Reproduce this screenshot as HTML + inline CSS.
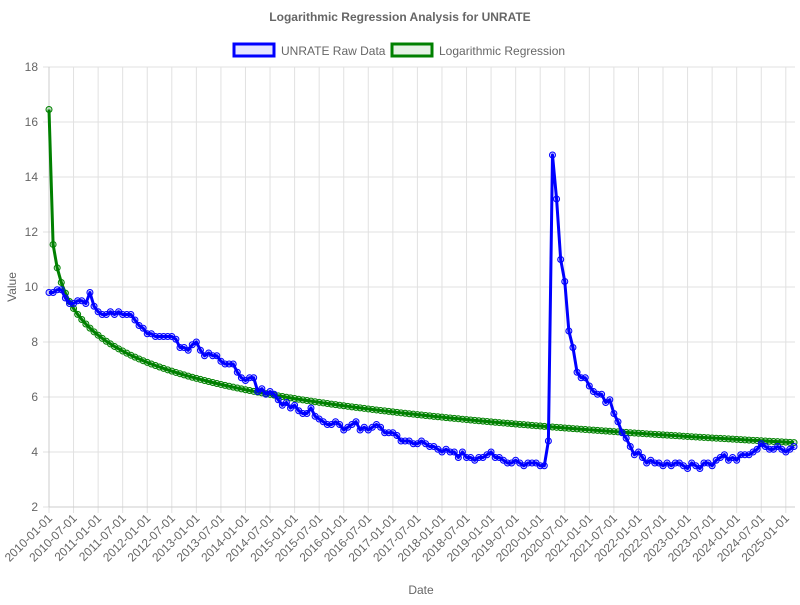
<!DOCTYPE html>
<html><head><meta charset="utf-8"><style>
body{margin:0;background:#fff;font-family:"Liberation Sans",Arial,sans-serif}
svg text{font-family:"Liberation Sans",Arial,sans-serif}
</style></head><body>
<svg id="chart" width="800" height="600" xmlns="http://www.w3.org/2000/svg">
<text x="400" y="21" text-anchor="middle" font-size="12" font-weight="bold" fill="#666">Logarithmic Regression Analysis for UNRATE</text>
<g>
<rect x="234" y="44" width="40" height="12" fill="rgba(0,0,255,0.1)" stroke="#0000ff" stroke-width="3"/>
<text x="281" y="55" font-size="12" fill="#666">UNRATE Raw Data</text></g>
<g>
<rect x="392" y="44" width="40" height="12" fill="rgba(0,128,0,0.1)" stroke="#008000" stroke-width="3"/>
<text x="439" y="55" font-size="12" fill="#666">Logarithmic Regression</text></g>
<g id="grid"></g>
<g id="yticks"></g>
<g id="xticks"></g>
<g id="series"></g>
<text transform="translate(16,287) rotate(-90)" text-anchor="middle" font-size="12" fill="#666">Value</text>
<text x="421" y="594" text-anchor="middle" font-size="12" fill="#666">Date</text>
</svg>
<script>
const startYear = 2010;
const unrate = [
9.8,9.8,9.9,9.9,9.6,9.4,9.4,9.5,9.5,9.4,9.8,9.3,
9.1,9.0,9.0,9.1,9.0,9.1,9.0,9.0,9.0,8.8,8.6,8.5,
8.3,8.3,8.2,8.2,8.2,8.2,8.2,8.1,7.8,7.8,7.7,7.9,
8.0,7.7,7.5,7.6,7.5,7.5,7.3,7.2,7.2,7.2,6.9,6.7,
6.6,6.7,6.7,6.2,6.3,6.1,6.2,6.1,5.9,5.7,5.8,5.6,
5.7,5.5,5.4,5.4,5.6,5.3,5.2,5.1,5.0,5.0,5.1,5.0,
4.8,4.9,5.0,5.1,4.8,4.9,4.8,4.9,5.0,4.9,4.7,4.7,
4.7,4.6,4.4,4.4,4.4,4.3,4.3,4.4,4.3,4.2,4.2,4.1,
4.0,4.1,4.0,4.0,3.8,4.0,3.8,3.8,3.7,3.8,3.8,3.9,
4.0,3.8,3.8,3.7,3.6,3.6,3.7,3.6,3.5,3.6,3.6,3.6,
3.5,3.5,4.4,14.8,13.2,11.0,10.2,8.4,7.8,6.9,6.7,6.7,
6.4,6.2,6.1,6.1,5.8,5.9,5.4,5.1,4.7,4.5,4.2,3.9,
4.0,3.8,3.6,3.7,3.6,3.6,3.5,3.6,3.5,3.6,3.6,3.5,
3.4,3.6,3.5,3.4,3.6,3.6,3.5,3.7,3.8,3.9,3.7,3.8,
3.7,3.9,3.9,3.9,4.0,4.1,4.3,4.2,4.1,4.1,4.2,4.1,
4.0,4.1,4.2];
const regA = 11.87;
const regB = -1.446;
const regOffset = 0.25;
const regFirstX = 0.042;
const yTicks = [2,4,6,8,10,12,14,16,18];

const NS='http://www.w3.org/2000/svg';
const L=49,R=794,T=67,B=507,yMin=2,yMax=18;
const n=unrate.length;
const xs=i=>L+i*(R-L)/(n-1);
const ys=v=>B-(v-yMin)/(yMax-yMin)*(B-T);
function mk(tag,attrs,parent){const e=document.createElementNS(NS,tag);for(const k in attrs)e.setAttribute(k,attrs[k]);parent.appendChild(e);return e;}
const grid=document.getElementById('grid'),yt=document.getElementById('yticks'),xt=document.getElementById('xticks'),ser=document.getElementById('series');
yTicks.forEach(v=>{
  const ln=mk('line',{x1:L-6,x2:R+1,y1:ys(v),y2:ys(v),stroke:'#e1e1e1'},grid);
  
  
  const t=mk('text',{x:L-11,y:ys(v)+4,'text-anchor':'end','font-size':12,fill:'#666'},yt);
  
  
  t.textContent=v;
});
for(let i=0;i<n;i+=6){
  const x=xs(i);
  const ln=mk('line',{x1:x,x2:x,y1:T,y2:B+6,stroke:'#e1e1e1'},grid);
  
  
  const y=startYear+Math.floor(i/12),m=(i%12)+1;
  const t=mk('text',{transform:`translate(${x+4},${B+12}) rotate(-45)`,'text-anchor':'end','font-size':12,fill:'#666'},xt);
  
  
  t.textContent=`${y}-${String(m).padStart(2,'0')}-01`;
}
mk('line',{x1:L,x2:L,y1:T,y2:B,stroke:'#ccc'},grid);
mk('line',{x1:L,x2:R+1,y1:B,y2:B,stroke:'#ccc'},grid);
function drawSeries(vals,color,fill,name){
  const g=mk('g',{},ser);
  
  
  const p=mk('polyline',{points:vals.map((v,i)=>xs(i)+','+ys(v)).join(' '),fill:'none',stroke:color,'stroke-width':3,'stroke-linejoin':'round'},g);
  
  
  vals.forEach((v,i)=>{
    const c=mk('circle',{cx:xs(i),cy:ys(v),r:3,fill:fill,stroke:color,'stroke-width':1},g);
    
    
  });
}
const reg=unrate.map((_,i)=>regA+regB*Math.log(i===0?regFirstX:i+regOffset));
drawSeries(reg,'#008000','rgba(0,128,0,0.2)','regression-series');
drawSeries(unrate,'#0000ff','rgba(0,0,255,0.2)','unrate-series');
</script>
</body></html>
